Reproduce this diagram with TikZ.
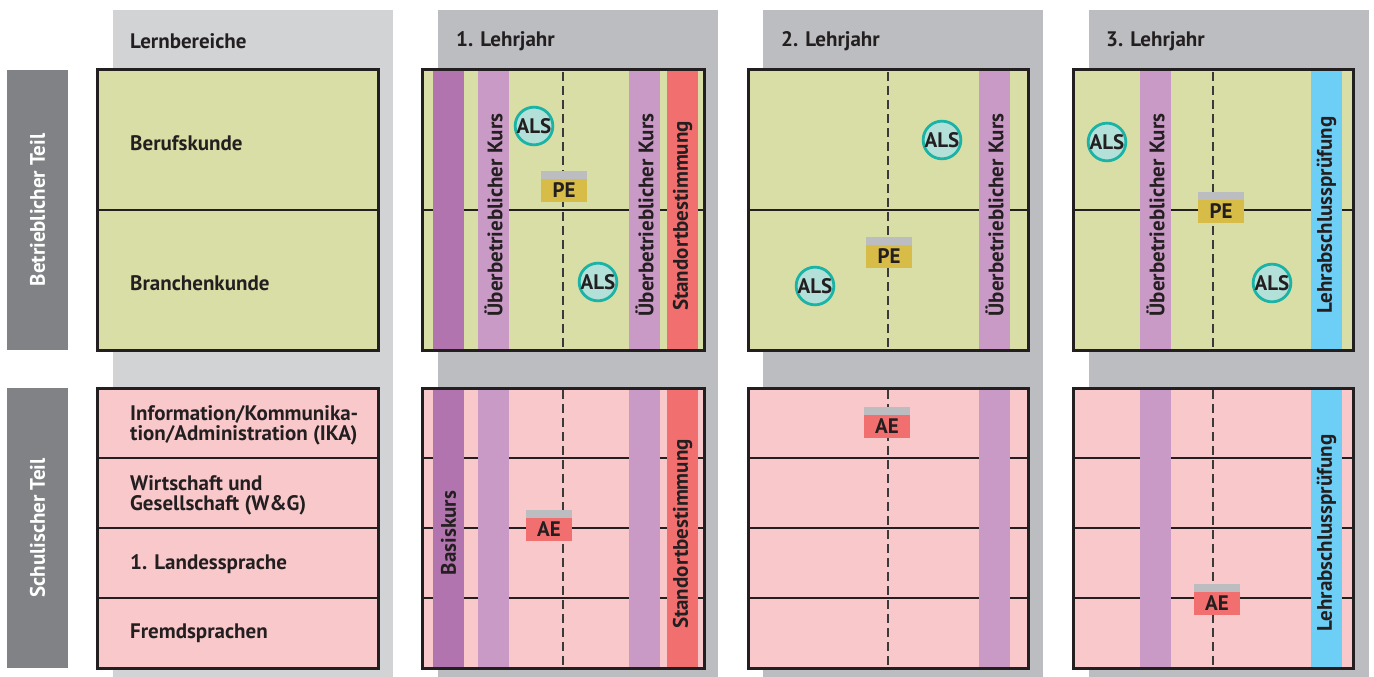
\documentclass[tikz,border=0pt]{standalone}
\usepackage{fontspec}
\setmainfont{PT Sans}
\definecolor{hdrlight}{HTML}{D1D3D4}
\definecolor{hdrdark}{HTML}{BCBDC0}
\definecolor{sidegray}{HTML}{808285}
\definecolor{green}{HTML}{D9DEA6}
\definecolor{pink}{HTML}{F8C8CB}
\definecolor{ink}{HTML}{231F20}
\definecolor{dashc}{HTML}{3A3A3A}
\definecolor{basis}{HTML}{B274AE}
\definecolor{uek}{HTML}{C99AC6}
\definecolor{stand}{HTML}{F26F6F}
\definecolor{lap}{HTML}{6DCFF6}
\definecolor{alsline}{HTML}{1AB3A6}
\definecolor{alsfill}{HTML}{B3E0D8}
\definecolor{peyel}{HTML}{D8BC48}
\definecolor{badgegray}{HTML}{BCBDC0}
\tikzset{
  txt/.style={font=\bfseries\fontsize{21}{20}\selectfont, text=ink, inner sep=0pt},
  hdr/.style={txt, anchor=west},
  rowlbl/.style={txt, anchor=west, align=left},
  side/.style={font=\bfseries\fontsize{21}{20}\selectfont, text=white, fill=sidegray, rotate=90, minimum width=280pt, minimum height=61pt, inner sep=0pt},
  striptxt/.style={txt, rotate=90},
  border/.style={draw=ink, line width=3pt},
  rowline/.style={draw=ink, line width=2.4pt},
  dashline/.style={draw=dashc, line width=2.4pt, dash pattern=on 9pt off 5pt},
  als/.style={txt, circle, draw=alsline, fill=alsfill, line width=2.8pt, minimum size=37pt, inner sep=0pt},
  pebadge/.style={txt, fill=peyel, minimum width=46pt, minimum height=23pt},
  aebadge/.style={txt, fill=stand, minimum width=46pt, minimum height=23pt},
}
\begin{document}
\begin{tikzpicture}[x=1pt,y=-1pt]
\useasboundingbox (0,0) rectangle (1374,677);
% column backgrounds
\fill[hdrlight] (113,10) rectangle (393,677);
\fill[hdrdark] (438,10) rectangle (718,677);
\fill[hdrdark] (763,10) rectangle (1043,677);
\fill[hdrdark] (1089,10) rectangle (1369,677);
% headers
\node[hdr] (hLern) at (130,41) {Lernbereiche};
\node[hdr] (hJ1) at (456,41) {1. Lehrjahr};
\node[hdr] (hJ2) at (781,41) {2. Lehrjahr};
\node[hdr] (hJ3) at (1106,41) {3. Lehrjahr};
% side labels
\node[side] (sBetr) at (37.5,210) {Betrieblicher Teil};
\node[side] (sSchul) at (37.5,528) {Schulischer Teil};

% ---------- table fills and row lines ----------
\foreach \L/\R in {97/378, 422/704, 748/1028, 1073/1353}{
  \fill[green] (\L,70) rectangle (\R,350);
  \fill[pink] (\L,388) rectangle (\R,668);
  \draw[rowline] (\L,210) -- (\R,210);
  \foreach \y in {458,528,598}{\draw[rowline] (\L,\y) -- (\R,\y);}
}
% dashed lines
\foreach \xd in {563, 888, 1213}{
  \draw[dashline] (\xd,72) -- (\xd,348);
  \draw[dashline] (\xd,390) -- (\xd,666);
}
% stripes
\foreach \yt/\yb in {71/349, 389/667}{
  \fill[basis] (433,\yt) rectangle (464,\yb);
  \fill[uek] (478,\yt) rectangle (509,\yb);
  \fill[uek] (629,\yt) rectangle (660,\yb);
  \fill[stand] (667,\yt) rectangle (698,\yb);
  \fill[uek] (979,\yt) rectangle (1010,\yb);
  \fill[uek] (1140,\yt) rectangle (1171,\yb);
  \fill[lap] (1311,\yt) rectangle (1342,\yb);
}
% borders
\foreach \L/\R in {97/378, 422/704, 748/1028, 1073/1353}{
  \draw[border] (\L,70) rectangle (\R,350);
  \draw[border] (\L,388) rectangle (\R,668);
}
% row labels
\node[rowlbl] (rBeruf) at (130,143) {Berufskunde};
\node[rowlbl] (rBranche) at (130,283) {Branchenkunde};
\node[rowlbl] (rIKA) at (130,425) {Information/Kommunika-\\tion/Administration (IKA)};
\node[rowlbl] (rWG) at (130,495) {Wirtschaft und\\Gesellschaft (W\&G)};
\node[rowlbl] (rLand) at (130,564) {1. Landessprache};
\node[rowlbl] (rFremd) at (130,633) {Fremdsprachen};

% stripe texts
\node[striptxt] (t1uekA) at (493.5,215) {Überbetrieblicher Kurs};
\node[striptxt] (t1uekB) at (644.5,215) {Überbetrieblicher Kurs};
\node[striptxt] (t1stdA) at (682.5,216) {Standortbestimmung};
\node[striptxt] (t1basis) at (448.5,533) {Basiskurs};
\node[striptxt] (t1stdB) at (682.5,534) {Standortbestimmung};
\node[striptxt] (t2uek) at (994.5,215) {Überbetrieblicher Kurs};
\node[striptxt] (t3uek) at (1155.5,215) {Überbetrieblicher Kurs};
\node[striptxt] (t3lapA) at (1326.5,215) {Lehrabschlussprüfung};
\node[striptxt] (t3lapB) at (1326.5,533) {Lehrabschlussprüfung};

% ALS circles
\node[als] (als1a) at (534,126) {ALS};
\node[als] (als1b) at (598,282) {ALS};
\node[als] (als2a) at (942,140) {ALS};
\node[als] (als2b) at (815,286) {ALS};
\node[als] (als3a) at (1107,142) {ALS};
\node[als] (als3b) at (1272,283) {ALS};

% PE badges
\node[pebadge] (pe1) at (564,190.5) {PE};
\fill[badgegray] (pe1.north west) rectangle ++(46,-8);
\node[pebadge] (pe2) at (889,256.5) {PE};
\fill[badgegray] (pe2.north west) rectangle ++(46,-8);
\node[pebadge] (pe3) at (1221,211.5) {PE};
\fill[badgegray] (pe3.north west) rectangle ++(46,-8);
% AE badges
\node[aebadge] (ae1) at (549,529.5) {AE};
\fill[badgegray] (ae1.north west) rectangle ++(46,-8);
\node[aebadge] (ae2) at (887,426.5) {AE};
\fill[badgegray] (ae2.north west) rectangle ++(46,-8);
\node[aebadge] (ae3) at (1217,603.5) {AE};
\fill[badgegray] (ae3.north west) rectangle ++(46,-8);
\end{tikzpicture}
\end{document}
